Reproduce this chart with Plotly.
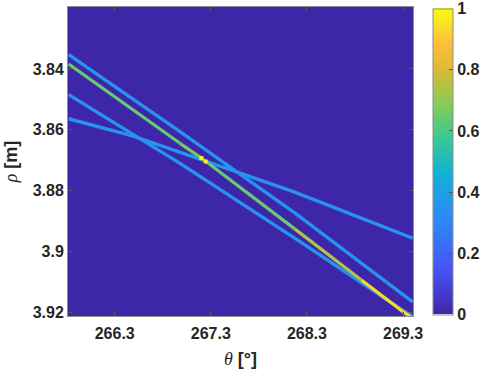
import plotly.graph_objects as go

# ---------------- data ----------------
# Line A: upper light-blue line
a_theta = [265.821, 266.976, 268.173, 269.401]
a_rho = [3.83529, 3.86056, 3.88735, 3.91667]

# Main line (strongest response)
main_theta = [265.821, 266.976, 267.202, 268.173, 268.867, 269.300, 269.401]
main_rho = [3.83835, 3.86438, 3.86933, 3.89262, 3.90943, 3.91987, 3.92211]
main_level = [0.64, 0.66, 0.64, 0.74, 0.93, 0.93]  # value of each segment

# Peak cells on the main line
peak_theta = [267.202, 267.247]
peak_rho = [3.86933, 3.87045]
peak_level = [1.0, 0.97]

# Line B: lower steep light-blue line
b_theta = [265.821, 266.976, 268.173, 269.318, 269.401]
b_rho = [3.84847, 3.87097, 3.89569, 3.91987, 3.92162]

# Line C: flatter light-blue line
c_theta = [265.821, 266.484, 266.976, 268.173, 269.401]
c_rho = [3.85638, 3.86198, 3.86735, 3.88053, 3.89569]

blue_level = 0.34

x_ticks = [266.3, 267.3, 268.3, 269.3]
x_labels = ["266.3", "267.3", "268.3", "269.3"]
y_ticks = [3.84, 3.86, 3.88, 3.90, 3.92]
y_labels = ["3.84", "3.86", "3.88", "3.9", "3.92"]
c_ticks = [0, 0.2, 0.4, 0.6, 0.8, 1]
c_labels = ["0", "0.2", "0.4", "0.6", "0.8", "1"]

x_range = [265.814, 269.404]
y_range = [3.9213, 3.8196]

# ---------------- parula-like colour scale ----------------
parula = [
    (0.00, (62, 38, 168)),
    (0.14, (72, 82, 244)),
    (0.30, (46, 135, 247)),
    (0.46, (18, 177, 214)),
    (0.57, (55, 200, 151)),
    (0.68, (129, 204, 89)),
    (0.80, (222, 186, 52)),
    (0.88, (252, 190, 61)),
    (1.00, (249, 251, 20)),
]
colorscale = [[p, "rgb(%d,%d,%d)" % c] for p, c in parula]


def pcolor(v):
    for (p0, c0), (p1, c1) in zip(parula[:-1], parula[1:]):
        if p0 <= v <= p1:
            t = (v - p0) / (p1 - p0)
            c = [round(c0[i] + t * (c1[i] - c0[i])) for i in range(3)]
            return "rgb(%d,%d,%d)" % tuple(c)
    return "rgb(%d,%d,%d)" % parula[-1][1]


fig = go.Figure()

blue = pcolor(blue_level)
for th, rh in [(a_theta, a_rho), (b_theta, b_rho), (c_theta, c_rho)]:
    fig.add_trace(go.Scatter(x=th, y=rh, mode="lines",
                             line=dict(color=blue, width=3.4),
                             showlegend=False, hoverinfo="skip"))

for i, lev in enumerate(main_level):
    fig.add_trace(go.Scatter(x=main_theta[i:i + 2], y=main_rho[i:i + 2], mode="lines",
                             line=dict(color=pcolor(lev), width=3.2),
                             showlegend=False, hoverinfo="skip"))

fig.add_trace(go.Scatter(x=peak_theta, y=peak_rho, mode="markers",
                         marker=dict(symbol="square", size=4,
                                     color=[pcolor(v) for v in peak_level]),
                         showlegend=False, hoverinfo="skip"))

# colour bar carrier
fig.add_trace(go.Scatter(
    x=[x_range[0]], y=[y_range[0]], mode="markers", showlegend=False, hoverinfo="skip",
    marker=dict(size=0.1, color=[0], cmin=0, cmax=1, colorscale=colorscale, opacity=0,
                showscale=True,
                colorbar=dict(x=1.058, xanchor="left", xref="paper", y=0.5, yanchor="middle",
                              len=0.99, lenmode="fraction", thickness=20, thicknessmode="pixels",
                              xpad=0, ypad=0, outlinewidth=1, outlinecolor="#8c8c8c",
                              ticks="inside", ticklen=4, tickcolor="#555",
                              tickvals=c_ticks, ticktext=c_labels,
                              tickfont=dict(family="Liberation Sans", size=16,
                                            color="#262626", weight="bold")))))

tickfont = dict(family="Liberation Sans", size=16, color="#262626", weight="bold")
fig.update_layout(
    width=484, height=375,
    margin=dict(l=68, r=71, t=7, b=59, autoexpand=False),
    paper_bgcolor="white",
    plot_bgcolor=pcolor(0),
    xaxis=dict(range=x_range, tickvals=x_ticks, ticktext=x_labels, showgrid=False,
               zeroline=False, showline=True, linecolor="#8c8c8c", linewidth=1, mirror="ticks",
               ticks="inside", ticklen=4, tickcolor="#555", tickfont=tickfont,
               ticklabelstandoff=3,
               title=dict(text="<span style='font-family:Liberation Serif;font-style:italic;font-weight:normal'>θ</span> <b>[°]</b>",
                          font=dict(family="Liberation Sans", size=18, color="#262626"),
                          standoff=11)),
    yaxis=dict(range=y_range, tickvals=y_ticks, ticktext=y_labels, showgrid=False,
               zeroline=False, showline=True, linecolor="#8c8c8c", linewidth=1, mirror="ticks",
               ticks="inside", ticklen=4, tickcolor="#555", tickfont=tickfont,
               title=dict(text="<span style='font-family:Liberation Serif;font-style:italic;font-weight:normal'>ρ</span> <b>[m]</b>",
                          font=dict(family="Liberation Sans", size=18, color="#262626"),
                          standoff=10)),
)

fig.write_html("out.html", config={"displayModeBar": False},
               post_script="document.body.style.margin='0';")
